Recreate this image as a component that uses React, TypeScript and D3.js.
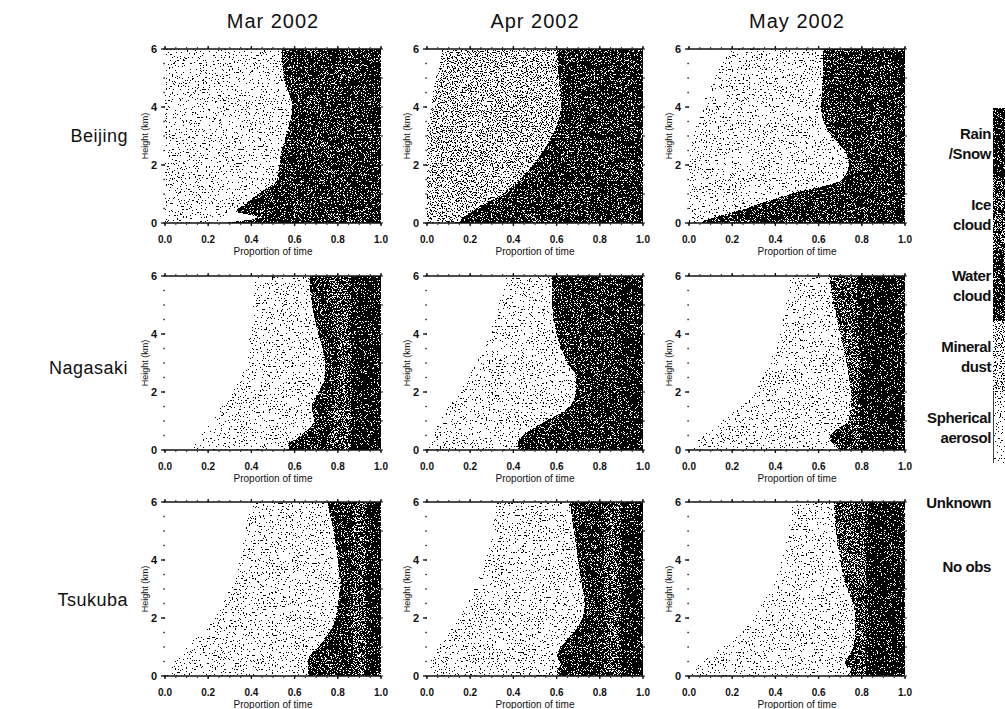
import React from 'react';
import * as d3 from 'd3';

// ---------- labels ----------
const MONTHS = ['Mar 2002', 'Apr 2002', 'May 2002'];
const SITES = ['Beijing', 'Nagasaki', 'Tsukuba'];
const HEIGHTS = [0, 0.2, 0.4, 0.7, 1, 1.5, 2, 2.5, 3, 4, 5, 6]; // km
const X_TICKS = [0, 0.2, 0.4, 0.6, 0.8, 1.0];
const Y_TICKS = [0, 2, 4, 6];
// layers drawn left to right along "proportion of time"
const LAYER_KEYS = ['clear', 'sph', 'dust', 'unknown', 'water', 'ice', 'rain'];
const LEGEND_BAR = [
  { key: 'rain', label: ['Rain', '/Snow'] },
  { key: 'ice', label: ['Ice', 'cloud'] },
  { key: 'water', label: ['Water', 'cloud'] },
  { key: 'dust', label: ['Mineral', 'dust'] },
  { key: 'sph', label: ['Spherical', 'aerosol'] },
];
const LEGEND_EXTRA = ['Unknown', 'No obs'];

// ---------- data: cumulative proportion of time at the right edge of each layer, per height ----------
// Beijing
const bjMarClear = [0, 0, 0, 0, 0, 0, 0, 0, 0, 0, 0, 0];
const bjMarAerosol = [0.25, 0.26, 0.33, 0.38, 0.43, 0.52, 0.53, 0.54, 0.56, 0.59, 0.55, 0.54];
const bjMarUnknown = [0.27, 0.43, 0.33, 0.38, 0.43, 0.52, 0.53, 0.54, 0.56, 0.59, 0.55, 0.54];
const bjMarCloud = [0.97, 0.97, 0.97, 0.97, 0.97, 0.97, 0.97, 0.97, 0.97, 0.97, 0.97, 0.97];

const bjAprClear = [0, 0, 0, 0, 0, 0, 0, 0, 0, 0.02, 0.04, 0.07];
const bjAprDust = [0.14, 0.17, 0.21, 0.28, 0.35, 0.43, 0.49, 0.54, 0.58, 0.62, 0.61, 0.6];
const bjAprCloud = [0.97, 0.97, 0.97, 0.97, 0.97, 0.97, 0.97, 0.97, 0.97, 0.97, 0.97, 0.97];

const bjMayClear = [0, 0, 0, 0, 0, 0, 0, 0.01, 0.02, 0.06, 0.12, 0.19];
const bjMayAerosol = [0.05, 0.12, 0.22, 0.34, 0.47, 0.71, 0.74, 0.72, 0.66, 0.61, 0.62, 0.62];
const bjMayCloud = [0.96, 0.96, 0.96, 0.96, 0.96, 0.96, 0.96, 0.96, 0.96, 0.96, 0.96, 0.96];

// Nagasaki
const ngMarClear = [0.12, 0.14, 0.16, 0.19, 0.22, 0.26, 0.31, 0.35, 0.38, 0.39, 0.41, 0.42];
const ngMarAerosol = [0.58, 0.57, 0.61, 0.66, 0.69, 0.68, 0.71, 0.74, 0.74, 0.71, 0.68, 0.67];
const ngMarWater = [0.75, 0.75, 0.76, 0.77, 0.78, 0.78, 0.79, 0.8, 0.8, 0.79, 0.77, 0.76];
const ngMarIce = [0.85, 0.86, 0.86, 0.86, 0.86, 0.86, 0.86, 0.86, 0.86, 0.86, 0.86, 0.86];

const ngAprClear = [0, 0.01, 0.02, 0.04, 0.06, 0.1, 0.15, 0.19, 0.23, 0.29, 0.33, 0.37];
const ngAprAerosol = [0.43, 0.42, 0.43, 0.48, 0.55, 0.66, 0.69, 0.69, 0.65, 0.6, 0.58, 0.58];
const ngAprCloud = [0.9, 0.9, 0.9, 0.9, 0.9, 0.9, 0.9, 0.9, 0.9, 0.9, 0.9, 0.9];

const ngMayClear = [0.02, 0.03, 0.05, 0.1, 0.15, 0.24, 0.3, 0.34, 0.37, 0.42, 0.45, 0.47];
const ngMayAerosol = [0.7, 0.67, 0.65, 0.68, 0.74, 0.75, 0.75, 0.74, 0.73, 0.7, 0.67, 0.65];
const ngMayWater = [0.72, 0.76, 0.77, 0.74, 0.74, 0.75, 0.75, 0.74, 0.73, 0.7, 0.67, 0.65];
const ngMayIce = [0.79, 0.79, 0.79, 0.79, 0.79, 0.79, 0.79, 0.79, 0.79, 0.79, 0.78, 0.78];

// Tsukuba
const tkMarClear = [0, 0.01, 0.03, 0.06, 0.1, 0.17, 0.23, 0.27, 0.3, 0.35, 0.37, 0.4];
const tkMarAerosol = [0.67, 0.66, 0.66, 0.67, 0.71, 0.76, 0.79, 0.8, 0.81, 0.8, 0.78, 0.75];
const tkMarWater = [0.87, 0.87, 0.87, 0.87, 0.87, 0.87, 0.87, 0.87, 0.87, 0.87, 0.87, 0.87];
const tkMarIce = [0.93, 0.93, 0.93, 0.93, 0.93, 0.93, 0.93, 0.93, 0.93, 0.93, 0.93, 0.93];

const tkAprClear = [0, 0, 0.01, 0.03, 0.05, 0.1, 0.15, 0.19, 0.22, 0.27, 0.3, 0.32];
const tkAprAerosol = [0.61, 0.6, 0.62, 0.6, 0.62, 0.68, 0.72, 0.73, 0.72, 0.7, 0.68, 0.66];
const tkAprWater = [0.82, 0.82, 0.82, 0.82, 0.82, 0.82, 0.82, 0.82, 0.82, 0.82, 0.82, 0.82];
const tkAprIce = [0.9, 0.9, 0.9, 0.9, 0.9, 0.9, 0.9, 0.9, 0.9, 0.9, 0.9, 0.9];

const tkMayClear = [0.01, 0.02, 0.05, 0.1, 0.16, 0.24, 0.3, 0.34, 0.38, 0.43, 0.46, 0.48];
const tkMayAerosol = [0.73, 0.75, 0.72, 0.74, 0.76, 0.77, 0.77, 0.76, 0.73, 0.7, 0.68, 0.67];
const tkMayWater = [0.78, 0.79, 0.79, 0.77, 0.76, 0.77, 0.77, 0.76, 0.73, 0.7, 0.68, 0.67];
const tkMayIce = [0.82, 0.82, 0.82, 0.82, 0.82, 0.82, 0.82, 0.82, 0.82, 0.82, 0.82, 0.82];

// right edges of layers clear, sph, dust, unknown, water, ice (rain runs to 1)
const PANELS = [
  [
    [bjMarClear, bjMarAerosol, bjMarAerosol, bjMarUnknown, bjMarCloud, bjMarCloud],
    [bjAprClear, bjAprClear, bjAprDust, bjAprDust, bjAprCloud, bjAprCloud],
    [bjMayClear, bjMayAerosol, bjMayAerosol, bjMayAerosol, bjMayCloud, bjMayCloud],
  ],
  [
    [ngMarClear, ngMarAerosol, ngMarAerosol, ngMarAerosol, ngMarWater, ngMarIce],
    [ngAprClear, ngAprAerosol, ngAprAerosol, ngAprAerosol, ngAprCloud, ngAprCloud],
    [ngMayClear, ngMayAerosol, ngMayAerosol, ngMayAerosol, ngMayWater, ngMayIce],
  ],
  [
    [tkMarClear, tkMarAerosol, tkMarAerosol, tkMarAerosol, tkMarWater, tkMarIce],
    [tkAprClear, tkAprAerosol, tkAprAerosol, tkAprAerosol, tkAprWater, tkAprIce],
    [tkMayClear, tkMayAerosol, tkMayAerosol, tkMayAerosol, tkMayWater, tkMayIce],
  ],
];

// ---------- styles ----------
const W = 1005;
const H = 709;
const COL_X = [165, 427, 689];
const ROW_Y = [49, 276, 502];
const ROW_LABEL_Y = [142, 374, 606];
const PW = 216;
const PH = 174;
const FONT = '"Liberation Sans", Arial, Helvetica, sans-serif';

// black-dot density threshold and grain of each texture
const TEXTURE: Record<string, { freq: number; t: number } | null> = {
  clear: null,
  unknown: null,
  sph: { freq: 0.65, t: 0.35 },
  dust: { freq: 0.8, t: 0.43 },
  water: { freq: 1.3, t: 0.6 },
  ice: { freq: 1.3, t: 0.55 },
  rain: { freq: 1.3, t: 0.625 },
};

function NoiseFilter({ id, freq, t }: { id: string; freq: number; t: number }) {
  return (
    <filter id={id} colorInterpolationFilters="sRGB">
      <feTurbulence type="fractalNoise" baseFrequency={freq} numOctaves={1} seed={7} result="n" />
      <feColorMatrix
        in="n"
        type="matrix"
        values={`0 0 0 0 0  0 0 0 0 0  0 0 0 0 0  -1 0 0 0 ${t + 0.5}`}
        result="m"
      />
      <feComponentTransfer in="m" result="d">
        <feFuncA type="discrete" tableValues="0 1" />
      </feComponentTransfer>
      <feComposite in="d" in2="SourceGraphic" operator="in" result="dots" />
      <feMerge>
        <feMergeNode in="SourceGraphic" />
        <feMergeNode in="dots" />
      </feMerge>
    </filter>
  );
}

function Panel({ row, col }: { row: number; col: number }) {
  const x0 = COL_X[col];
  const y0 = ROW_Y[row];
  const x = d3.scaleLinear().domain([0, 1]).range([x0, x0 + PW]);
  const y = d3.scaleLinear().domain([0, 6]).range([y0 + PH, y0]);
  const edges = PANELS[row][col];

  const layers = LAYER_KEYS.map((key, i) => {
    const left = i === 0 ? null : edges[i - 1];
    const right = i === LAYER_KEYS.length - 1 ? null : edges[i];
    if (left && right && left === right) return null;
    const area = d3
      .area<number>()
      .y((h) => y(h))
      .x0((_, k) => x(left ? left[k] : 0))
      .x1((_, k) => x(right ? right[k] : 1))
      .curve(d3.curveMonotoneY);
    const tex = TEXTURE[key];
    return (
      <path
        key={key}
        d={area(HEIGHTS) || ''}
        fill="#fff"
        shapeRendering="crispEdges"
        filter={tex ? `url(#tex-${key})` : undefined}
      />
    );
  });

  const minorX = d3.range(0, 1.0001, 0.05);
  const minorY = d3.range(0, 6.0001, 0.5);
  const rightY = d3.range(0, 6.0001, 1);

  return (
    <g>
      {layers}
      {/* top & bottom axes */}
      <line x1={x0} x2={x0 + PW} y1={y0} y2={y0} stroke="#111" strokeWidth={1.5} />
      <line x1={x0} x2={x0 + PW} y1={y0 + PH} y2={y0 + PH} stroke="#111" strokeWidth={1.5} />
      {minorX.map((v, i) => (
        <g key={'mx' + i}>
          <rect x={x(v) - 0.6} y={y0 - 1.8} width={1.2} height={1.2} fill="#111" />
          <rect x={x(v) - 0.6} y={y0 + PH + 0.6} width={1.2} height={1.2} fill="#111" />
        </g>
      ))}
      {X_TICKS.map((v) => (
        <g key={'tx' + v}>
          <line x1={x(v)} x2={x(v)} y1={y0 - 3} y2={y0} stroke="#111" strokeWidth={1.3} />
          <line x1={x(v)} x2={x(v)} y1={y0 + PH} y2={y0 + PH + 3} stroke="#111" strokeWidth={1.3} />
          <text
            x={x(v)}
            y={y0 + PH + 20}
            textAnchor="middle"
            fontSize={10}
            fontWeight="bold"
            fontFamily={FONT}
            fill="#111"
          >
            {d3.format('.1f')(v)}
          </text>
        </g>
      ))}
      {/* left axis: ticks and dots */}
      {minorY.map((v, i) => (
        <rect key={'my' + i} x={x0 - 1.6} y={y(v) - 0.7} width={1.4} height={1.4} fill="#111" />
      ))}
      {Y_TICKS.map((v) => (
        <g key={'ty' + v}>
          <line x1={x0 - 4} x2={x0} y1={y(v)} y2={y(v)} stroke="#111" strokeWidth={1.3} />
          <text
            x={x0 - 8}
            y={y(v) + 4}
            textAnchor="end"
            fontSize={11}
            fontWeight="bold"
            fontFamily={FONT}
            fill="#111"
          >
            {v}
          </text>
        </g>
      ))}
      {rightY.map((v) => (
        <line key={'ry' + v} x1={x0 + PW} x2={x0 + PW + 2} y1={y(v)} y2={y(v)} stroke="#111" strokeWidth={1.2} />
      ))}
      <text
        transform={`translate(${x0 - 17},${y0 + PH / 2}) rotate(-90)`}
        textAnchor="middle"
        fontSize={9}
        fontFamily={FONT}
        fill="#111"
      >
        Height (km)
      </text>
      <text
        x={x0 + PW / 2}
        y={y0 + PH + 32}
        textAnchor="middle"
        fontSize={10}
        fontFamily={FONT}
        fill="#111"
      >
        Proportion of time
      </text>
    </g>
  );
}

export default function App() {
  const barTop = 108;
  const segH = 71;
  const extraY = [508, 572];
  return (
    <svg
      width={W}
      height={H}
      viewBox={`0 0 ${W} ${H}`}
      style={{ position: 'absolute', left: 0, top: 0, background: '#fff' }}
    >
      <defs>
        {Object.entries(TEXTURE).map(([k, v]) =>
          v ? <NoiseFilter key={k} id={`tex-${k}`} freq={v.freq} t={v.t} /> : null
        )}
      </defs>
      <rect x={0} y={0} width={W} height={H} fill="#fff" />
      {MONTHS.map((m, c) => (
        <text
          key={m}
          x={COL_X[c] + PW / 2}
          y={28}
          textAnchor="middle"
          fontSize={20}
          letterSpacing={1}
          fontFamily={FONT}
          fill="#111"
        >
          {m}
        </text>
      ))}
      {SITES.map((s, r) => (
        <text
          key={s}
          x={128}
          y={ROW_LABEL_Y[r]}
          textAnchor="end"
          fontSize={18}
          letterSpacing={0.5}
          fontFamily={FONT}
          fill="#111"
        >
          {s}
        </text>
      ))}
      {SITES.map((_, r) => MONTHS.map((__, c) => <Panel key={`${r}-${c}`} row={r} col={c} />))}
      {/* legend colour bar */}
      {LEGEND_BAR.map((seg, i) => {
        const yTop = barTop + i * segH;
        const cy = yTop + segH / 2;
        return (
          <g key={seg.key}>
            <rect
              x={993}
              y={yTop}
              width={12}
              height={segH}
              fill="#fff"
              shapeRendering="crispEdges"
              filter={`url(#tex-${seg.key})`}
            />
            <text x={991} y={cy - 5} textAnchor="end" fontSize={15} fontWeight="bold" letterSpacing={-0.4} fontFamily={FONT} fill="#111">
              {seg.label[0]}
            </text>
            <text x={991} y={cy + 15} textAnchor="end" fontSize={15} fontWeight="bold" letterSpacing={-0.4} fontFamily={FONT} fill="#111">
              {seg.label[1]}
            </text>
          </g>
        );
      })}
      <line x1={993.5} x2={993.5} y1={barTop + 4 * segH} y2={barTop + 5 * segH} stroke="#444" strokeWidth={1} />
      {LEGEND_EXTRA.map((lab, i) => (
        <text
          key={lab}
          x={991}
          y={extraY[i]}
          textAnchor="end"
          fontSize={15}
          fontWeight="bold"
          letterSpacing={-0.4}
          fontFamily={FONT}
          fill="#111"
        >
          {lab}
        </text>
      ))}
    </svg>
  );
}
